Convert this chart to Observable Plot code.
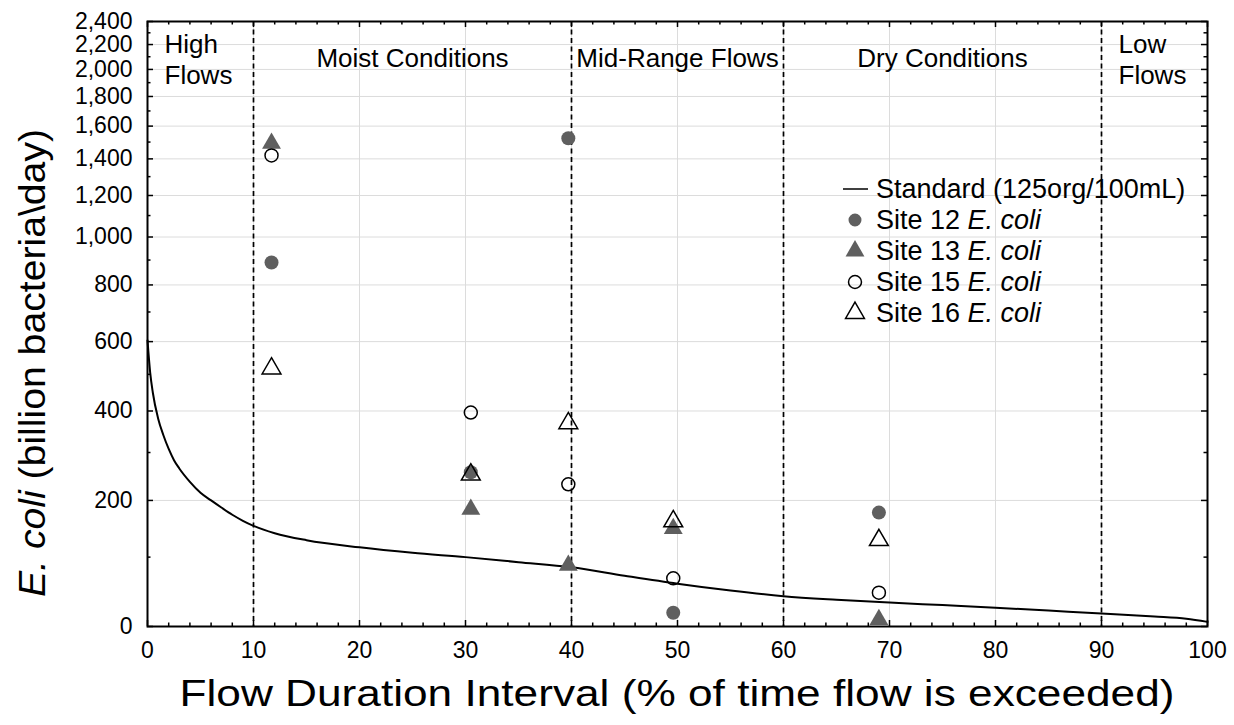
<!DOCTYPE html>
<html><head><meta charset="utf-8">
<script src="https://cdn.jsdelivr.net/npm/d3@7"></script>
<script src="https://cdn.jsdelivr.net/npm/@observablehq/plot@0.6"></script>
<style>
body{margin:0;background:#fff;}
#wrap{position:relative;width:1234px;height:725px;}
</style></head><body><div id="wrap"></div>
<script>
// ---- data ----
const flowX = [11.7, 30.5, 39.7, 49.6, 69.0];
const site12 = [890, 257, 1523, 18, 177];
const site13 = [1492, 183, 87, 148, 9];
const site15 = [1420, 396, 232, 67, 46];
const site16 = [517, 252, 369, 161, 128];
const stdX = [0, 0.25, 0.5, 1, 1.5, 2, 2.5, 3, 4, 5, 6, 7, 8, 9, 10, 12, 15, 20, 25, 30, 35, 40, 45, 50, 55, 60, 65, 70, 75, 80, 85, 90, 95, 98, 100];
const stdY = [604, 506, 449, 381, 340, 308, 283, 265, 237, 215, 200, 186, 173, 162, 153, 140, 128, 116, 107, 100, 92, 84, 71, 59, 49, 41, 36, 32, 28.5, 25, 21, 17, 13, 10, 6];
const zoneBreaks = [10, 40, 60, 90];
const zoneNames = ["Moist Conditions", "Mid-Range Flows", "Dry Conditions"];
const zoneMids = [25, 50, 75];
const edgeNames = ["High\nFlows", "Low\nFlows"];
const edgeMids = [5, 95];
const xTickValues = [0, 10, 20, 30, 40, 50, 60, 70, 80, 90, 100];
const xMinorValues = [2, 4, 6, 8, 12, 14, 16, 18, 22, 24, 26, 28, 32, 34, 36, 38, 42, 44, 46, 48, 52, 54, 56, 58, 62, 64, 66, 68, 72, 74, 76, 78, 82, 84, 86, 88, 92, 94, 96, 98];
const yTickValues = [0, 200, 400, 600, 800, 1000, 1200, 1400, 1600, 1800, 2000, 2200, 2400];
const yMinorValues = [100, 300, 500, 700, 900, 1100, 1300, 1500, 1700, 1900, 2100, 2300];
const xTitle = "Flow Duration Interval (% of time flow is exceeded)";
const legendLabels = ["Standard (125org/100mL)", "Site 12 ", "Site 13 ", "Site 15 ", "Site 16 "];

// ---- tables ----
const mk = (vals) => flowX.map((x, i) => ({x, y: vals[i]}));
const std = stdX.map((x, i) => ({x, y: stdY[i]}));
const zones = zoneNames.map((t, i) => ({t, x: zoneMids[i]}));
const edges = edgeNames.map((t, i) => ({t, x: edgeMids[i]}));

const W = 1234, H = 725, mT = 21, mB = 99, mL = 147, mR = 27;
const innerH = H - mT - mB, innerW = W - mL - mR;
const gray = "#5f5f5f";
const font = "'Liberation Sans', Arial, sans-serif";

const svg = Plot.plot({
  width: W, height: H,
  marginTop: mT, marginBottom: mB, marginLeft: mL, marginRight: mR,
  style: {fontFamily: font, fontSize: "23px", background: "#fff", color: "#000"},
  x: {domain: [0, 100]},
  y: {type: "symlog", constant: 400, domain: [0, 2400]},
  marks: [
    Plot.ruleX(xTickValues, {stroke: "#dcdcdc", strokeWidth: 1}),
    Plot.ruleY(yTickValues, {stroke: "#dcdcdc", strokeWidth: 1}),
    Plot.ruleX(zoneBreaks, {stroke: "#000", strokeWidth: 1.7, strokeDasharray: "5,3.5"}),
    Plot.line(std, {x: "x", y: "y", stroke: "#000", strokeWidth: 2, curve: "monotone-x"}),
    Plot.dot(mk(site12), {x: "x", y: "y", r: 7, fill: gray, symbol: "circle"}),
    Plot.dot(mk(site13), {x: "x", y: "y", r: 7, fill: gray, symbol: "triangle"}),
    Plot.dot(mk(site15), {x: "x", y: "y", r: 6.5, fill: "none", stroke: "#000", strokeWidth: 1.5, symbol: "circle"}),
    Plot.dot(mk(site16), {x: "x", y: "y", r: 7, fill: "none", stroke: "#000", strokeWidth: 1.5, symbol: "triangle"}),
    // inward ticks
    Plot.ruleX(xTickValues, {insetTop: innerH - 6, stroke: "#000", strokeWidth: 1.5}),
    Plot.ruleX(xMinorValues, {insetTop: innerH - 3.5, stroke: "#000", strokeWidth: 1.5}),
    Plot.ruleX(xTickValues, {insetBottom: innerH - 6, stroke: "#000", strokeWidth: 1.5}),
    Plot.ruleX(xMinorValues, {insetBottom: innerH - 3.5, stroke: "#000", strokeWidth: 1.5}),
    Plot.ruleY(yTickValues, {insetRight: innerW - 6, stroke: "#000", strokeWidth: 1.5}),
    Plot.ruleY(yMinorValues, {insetRight: innerW - 3.5, stroke: "#000", strokeWidth: 1.5}),
    Plot.ruleY(yTickValues, {insetLeft: innerW - 6, stroke: "#000", strokeWidth: 1.5}),
    Plot.ruleY(yMinorValues, {insetLeft: innerW - 3.5, stroke: "#000", strokeWidth: 1.5}),
    Plot.frame({stroke: "#000", strokeWidth: 2}),
    Plot.axisX(xTickValues, {tickSize: 0, tickPadding: 15, fontSize: 23, label: null}),
    Plot.axisY(yTickValues, {tickSize: 0, tickPadding: 15, fontSize: 23, label: null, tickFormat: d3.format(",")}),
    Plot.text(zones, {x: "x", text: "t", frameAnchor: "top", lineAnchor: "top", dy: 27, fontSize: 26, fill: "#000"}),
    Plot.text(edges, {x: "x", text: "t", frameAnchor: "top", lineAnchor: "top", dy: 10, dx: -36, textAnchor: "start", lineHeight: 1.17, fontSize: 26, fill: "#000"})
  ]
});
document.getElementById("wrap").appendChild(svg);

// ---- titles and legend ----
const s = d3.select(svg);
s.append("text").attr("x", mL + innerW / 2).attr("y", 706)
  .attr("text-anchor", "middle").attr("textLength", 995).attr("lengthAdjust", "spacingAndGlyphs")
  .style("font-family", font).style("font-size", "36px").attr("fill", "#000")
  .text(xTitle);
const yt = s.append("text").attr("transform", `translate(45,363) rotate(-90)`)
  .attr("text-anchor", "middle").attr("textLength", 468).attr("lengthAdjust", "spacingAndGlyphs")
  .style("font-family", font).style("font-size", "36px").attr("fill", "#000");
yt.append("tspan").style("font-style", "italic").text("E. coli");
yt.append("tspan").text(" (billion bacteria\\day)");

const lg = s.append("g").style("font-family", font).style("font-size", "27px").attr("text-anchor", "start");
const lx = 855, tx = 876, base0 = 198, step = 31;
legendLabels.forEach((lab, i) => {
  const cy = base0 + step * i - 9;
  if (i === 0) {
    lg.append("line").attr("x1", lx - 12).attr("x2", lx + 13).attr("y1", cy).attr("y2", cy).attr("stroke", "#000").attr("stroke-width", 1.5);
  } else {
    const tri = (i === 2 || i === 4);
    const filled = (i === 1 || i === 2);
    const sym = d3.symbol(tri ? d3.symbolTriangle : d3.symbolCircle, tri ? Math.PI * 49 : Math.PI * 42);
    lg.append("path").attr("d", sym()).attr("transform", `translate(${lx},${cy})`)
      .attr("fill", filled ? gray : "none").attr("stroke", filled ? "none" : "#000").attr("stroke-width", 1.5);
  }
  const t = lg.append("text").attr("x", tx).attr("y", base0 + step * i).attr("fill", "#000").attr("text-anchor", "start");
  t.append("tspan").text(lab);
  if (i > 0) t.append("tspan").style("font-style", "italic").text("E. coli");
});
</script></body></html>
